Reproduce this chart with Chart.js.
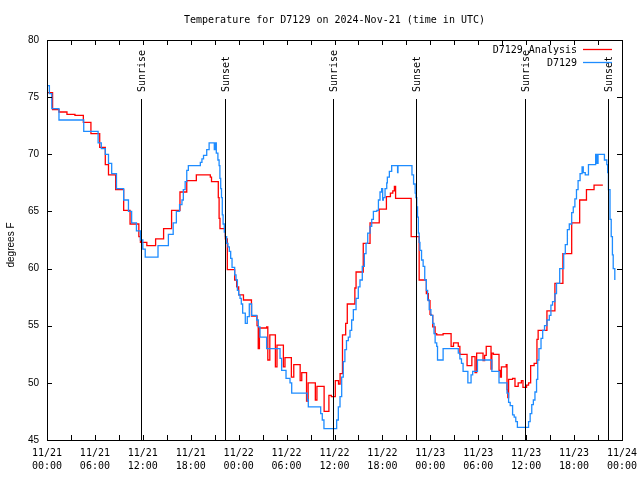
<!DOCTYPE html>
<html>
<head>
<meta charset="utf-8">
<script src="https://cdn.jsdelivr.net/npm/chart.js@4.4.1/dist/chart.umd.min.js"></script>
<style>
  html, body { margin: 0; padding: 0; background: #fff; }
  canvas { display: block; }
</style>
</head>
<body>
<canvas id="myChart" width="640" height="480"></canvas>
<script>
// hours since 2024-11-21 00:00 UTC
var anaHours = [0, 0.7, 1.5, 2.5, 3.5, 4.55, 5.5, 6.6, 7.3, 7.7, 8.6, 9.6, 10.4, 11.5, 11.7, 12.5, 13.6, 14.6, 15.6, 16.65,
	17.5, 18.7, 20.45, 20.6, 21.45, 21.55, 21.66, 22.33, 22.58, 23.5, 23.75, 24.0, 24.6, 25.6, 26.3, 26.45, 26.6, 27.5, 27.65, 27.9, 28.6,
	28.8, 29.6, 29.8, 30.6, 30.9, 31.7, 31.9, 32.5, 32.7, 33.6, 33.8, 34.7, 35.3, 35.6, 36.1, 36.5, 36.7, 37.0, 37.4, 37.6,
	38.55, 38.7, 39.6, 40.45, 41.6, 42.5, 43.0, 43.3, 43.5, 43.65, 45.6, 46.6, 47.5, 47.75, 47.96, 48.1, 48.3, 48.6, 48.8, 49.6,
	50.6, 50.9, 51.5, 51.7, 52.6, 53.2, 53.6, 53.8, 54.6, 54.8, 55.0, 55.6, 55.7, 55.9, 56.6, 56.75, 56.9, 57.5, 57.6, 57.7,
	57.8, 58.3, 58.6, 59.0, 59.4, 59.6, 60.05, 60.3, 60.56, 61.0, 61.35, 61.5, 62.6, 63.6, 64.6, 65.7, 66.7, 67.55, 68.5, 69.6];
var anaTemp = [75.4, 73.9, 73.7, 73.5, 73.4, 72.8, 71.8, 70.6, 69.1, 68.2, 66.9, 65.1, 63.9, 62.8, 62.3, 62.0, 62.6, 63.5, 65.1, 66.7,
	67.7, 68.2, 68.0, 67.6, 66.2, 64.4, 63.5, 62.6, 59.9, 59.0, 58.4, 57.7, 57.25, 55.85, 55.0, 53.0, 54.8, 54.9, 52.0, 54.2, 51.4,
	53.3, 51.4, 52.2, 50.5, 51.6, 50.2, 50.9, 48.4, 50.0, 48.5, 49.7, 47.5, 48.9, 48.8, 50.2, 49.9, 50.8, 54.2, 55.2, 56.9,
	58.3, 59.7, 62.2, 64.0, 65.2, 66.3, 66.6, 66.8, 67.2, 66.15, 62.8, 59.0, 57.8, 57.2, 56.0, 55.9, 54.9, 54.3, 54.2, 54.3,
	53.2, 53.5, 53.2, 52.5, 51.5, 52.3, 50.9, 52.6, 51.95, 52.4, 53.2, 51.2, 52.6, 52.5, 51.1, 50.5, 51.4, 51.6, 49.4, 48.7,
	50.3, 50.4, 49.7, 50.0, 50.2, 49.6, 49.8, 50.0, 51.5, 51.7, 53.8, 54.6, 56.3, 58.7, 61.3, 64.0, 66.0, 66.9, 67.3, 67.3];

var obsHours = [0, 0.3, 0.6, 1.5, 4.6, 6.4, 6.8, 7.3, 7.7, 8.1, 8.7, 9.6, 10.2, 10.6, 11.2, 11.7, 12.0, 12.3, 13.9, 15.2,
	15.8, 16.2, 16.6, 16.9, 17.07, 17.3, 17.5, 17.7, 19.2, 19.4, 19.6, 20.0, 20.3, 20.95, 21.1, 21.2, 21.4, 21.55, 21.65, 21.75,
	21.85, 21.95, 22.05, 22.2, 22.33, 22.5, 22.66, 22.83,
	23.0, 23.17, 23.5, 23.67, 23.84, 24.0, 24.17, 24.33, 24.5, 24.83, 25.08, 25.33, 25.63, 26.25, 26.46, 26.67, 27.5, 29.18, 29.38, 29.93,
	30.43, 30.64, 32.6, 32.72, 34.27, 34.47, 34.68, 36.27, 36.48, 36.69, 36.9, 37.1, 37.3, 37.5, 37.73, 37.94, 38.15, 38.36, 38.7, 38.98,
	39.19, 39.48, 39.74, 39.95, 40.16, 40.45, 40.66, 40.87, 41.3, 41.5, 41.7, 41.9, 42.03, 42.12, 42.33, 42.54, 42.62, 42.87, 43.16, 43.9,
	43.95, 45.7, 45.9, 46.1, 46.2, 46.3, 46.4, 46.5, 46.6, 46.7, 46.9, 47.1, 47.3, 47.5, 47.66, 47.86, 48.07, 48.3, 48.46, 48.6, 48.8,
	48.9, 49.6, 51.5, 51.7, 51.9, 52.1, 52.7, 53.1, 53.3, 53.9, 55.7, 56.6, 57.6, 57.8, 58.0, 58.3, 58.5, 58.7, 58.9, 60.3,
	60.5, 60.7, 60.9, 61.1, 61.3, 61.45, 61.6, 61.86, 62.07, 62.3, 62.6, 62.9, 63.1, 63.3, 63.6, 63.8, 64.2, 64.7, 64.9, 65.16,
	65.4, 65.7, 65.9, 66.1, 66.3, 66.5, 66.75, 67.0, 67.15, 67.4, 67.8, 68.7, 68.85, 69.0, 69.6, 69.8, 70.1, 70.2, 70.3, 70.5,
	70.65, 70.8, 70.9, 71.1];
var obsTemp = [76, 75.3, 74, 73, 72, 71, 70.5, 70, 69.2, 68.3, 67, 66, 65, 64, 63.3, 62.5, 61.7, 61, 62, 63,
	64, 65, 65.6, 66.0, 66.9, 67.6, 68.6, 69.0, 69.3, 69.6, 69.9, 70.4, 71.0, 70.4, 71.0, 70.1, 69.5, 69.0, 67.9, 67.0,
	66.2, 64.7, 63.9, 63.2, 62.8, 62.2, 61.9, 61.5,
	60.9, 60.1, 59.45, 59.0, 58.1, 57.7, 57.4, 56.9, 56.1, 55.2, 55.8, 56.9, 55.9, 55.5, 54.9, 54.0, 53.0, 52.15, 51.1, 50.4,
	50.0, 49.1, 48.5, 47.9, 47.3, 46.75, 46.0, 46.75, 47.9, 48.8, 50.5, 51.85, 52.9, 53.7, 54.0, 54.6, 55.5, 56.4, 57.4, 58.4,
	59.0, 60.2, 61.3, 62.2, 63.1, 63.7, 64.3, 65.0, 65.1, 66.0, 66.7, 67.0, 66.0, 66.2, 67.0, 67.5, 68.0, 68.5, 69.0, 68.4,
	69.0, 68.2, 67.4, 66.6, 66.2, 65.4, 64.5, 63.1, 62.3, 61.6, 60.75, 60.2, 59.0, 58.1, 57.25, 56.4, 55.9, 55.2, 54.3, 53.5, 53.2,
	52.0, 53.0, 52.6, 52.1, 51.7, 51.0, 50.0, 50.7, 51.0, 52.0, 51.0, 50.0, 49.1, 48.3, 48.0, 47.2, 47.0, 46.6, 46.1, 46.6,
	47.3, 48.1, 48.5, 49.2, 50.3, 52.0, 53.0, 53.9, 54.6, 55.0, 55.5, 55.9, 56.8, 57.1, 57.8, 58.7, 60.0, 61.3, 62.1, 63.4,
	63.9, 64.9, 65.4, 66.1, 66.9, 67.7, 68.3, 68.9, 68.4, 68.2, 69.1, 70.0, 69.2, 70.0, 70.0, 69.5, 69.1, 68.4, 66.9, 64.3,
	62.8, 61.2, 60.0, 59.0];

var sunHours = [11.77, 22.33, 35.85, 46.25, 59.9, 70.29];
var sunNames = ['Sunrise', 'Sunset', 'Sunrise', 'Sunset', 'Sunrise', 'Sunset'];

var dayLabels = ['11/21', '11/22', '11/23', '11/24'];
var hourLabels = ['00:00', '06:00', '12:00', '18:00'];

var titleText = 'Temperature for D7129 on 2024-Nov-21 (time in UTC)';
var yTitle = 'degrees F';

var mono = '"DejaVu Sans Mono", "Liberation Mono", monospace';
var sans = '"Liberation Sans", Arial, sans-serif';

function toPoints(xs, ys) {
	return xs.map(function (x, i) { return { x: x, y: ys[i] }; });
}

// gnuplot style frame, inward ticks, sun markers, key and titles
var gnuplotLook = {
	id: 'gnuplotLook',
	afterDatasetsDraw: function (chart) {
		var ctx = chart.ctx;
		var a = chart.chartArea;
		var xs = chart.scales.x;
		var ys = chart.scales.y;
		ctx.save();
		ctx.strokeStyle = '#000';
		ctx.lineWidth = 1;

		// sunrise / sunset lines
		ctx.font = '10px ' + mono;
		ctx.fillStyle = '#000';
		sunHours.forEach(function (h, i) {
			var px = Math.round(xs.getPixelForValue(h)) + 0.5;
			ctx.beginPath();
			ctx.moveTo(px, 99);
			ctx.lineTo(px, a.bottom);
			ctx.stroke();
			ctx.save();
			ctx.translate(px + 1, 92);
			ctx.rotate(-Math.PI / 2);
			ctx.textAlign = 'left';
			ctx.textBaseline = 'middle';
			ctx.fillText(sunNames[i], 0, 0);
			ctx.restore();
		});

		// frame
		ctx.strokeRect(Math.round(a.left) + 0.5, Math.round(a.top) + 0.5,
			Math.round(a.right - a.left), Math.round(a.bottom - a.top));

		// inward ticks
		ctx.beginPath();
		for (var h = 3; h < 72; h += 3) {
			var px = Math.round(xs.getPixelForValue(h)) + 0.5;
			ctx.moveTo(px, a.bottom); ctx.lineTo(px, a.bottom - 5);
			ctx.moveTo(px, a.top); ctx.lineTo(px, a.top + 5);
		}
		for (var v = 50; v < 80; v += 5) {
			var py = Math.round(ys.getPixelForValue(v)) + 0.5;
			ctx.moveTo(a.left, py); ctx.lineTo(a.left + 5, py);
			ctx.moveTo(a.right, py); ctx.lineTo(a.right - 5, py);
		}
		ctx.stroke();

		// key
		ctx.font = '10px ' + mono;
		ctx.textAlign = 'right';
		ctx.textBaseline = 'middle';
		chart.data.datasets.forEach(function (ds, i) {
			var ky = 50 + i * 13;
			ctx.fillStyle = '#000';
			ctx.fillText(ds.label, 577, ky);
			ctx.strokeStyle = ds.borderColor;
			ctx.lineWidth = 1.3;
			ctx.beginPath();
			ctx.moveTo(583, ky - 0.5);
			ctx.lineTo(612, ky - 0.5);
			ctx.stroke();
		});

		// title
		ctx.fillStyle = '#000';
		ctx.textAlign = 'center';
		ctx.textBaseline = 'middle';
		ctx.font = '10px ' + mono;
		ctx.fillText(titleText, (a.left + a.right) / 2, 20);

		// y axis title
		ctx.save();
		ctx.translate(11, 245);
		ctx.rotate(-Math.PI / 2);
		ctx.font = '10px ' + sans;
		ctx.fillText(yTitle, 0, 0);
		ctx.restore();

		ctx.restore();
	}
};

var myChart = document.getElementById('myChart').getContext('2d');

var chart = new Chart(myChart, {
	type: 'line',
	data: {
		datasets: [{
			label: 'D7129 Analysis',
			data: toPoints(anaHours, anaTemp),
			borderColor: '#ff0000',
			borderWidth: 1.3,
			stepped: true,
			pointRadius: 0,
			fill: false,
			order: 2
		}, {
			label: 'D7129',
			data: toPoints(obsHours, obsTemp),
			borderColor: '#1e8cff',
			borderWidth: 1.3,
			stepped: true,
			pointRadius: 0,
			fill: false,
			order: 1
		}]
	},
	options: {
		responsive: false,
		animation: false,
		layout: {
			padding: { top: 40, right: 18, left: 0, bottom: 0 }
		},
		plugins: {
			legend: { display: false },
			tooltip: { enabled: false },
			title: { display: false }
		},
		scales: {
			x: {
				type: 'linear',
				min: 0,
				max: 72,
				grid: { display: false, drawTicks: false },
				border: { display: false },
				ticks: {
					stepSize: 6,
					autoSkip: false,
					maxRotation: 0,
					padding: 7,
					color: '#000',
					font: { family: mono, size: 10, lineHeight: 1.3 },
					callback: function (value) {
						if (value % 6 !== 0) return '';
						return [dayLabels[Math.floor(value / 24)], hourLabels[(value % 24) / 6]];
					}
				},
				afterFit: function (scale) {
					scale.height = 40;
					scale.paddingLeft = 0;
					scale.paddingRight = 0;
				}
			},
			y: {
				min: 45,
				max: 80,
				grid: { display: false, drawTicks: false },
				border: { display: false },
				ticks: {
					stepSize: 5,
					padding: 8,
					color: '#000',
					font: { family: sans, size: 10 }
				},
				afterFit: function (scale) { scale.width = 47; }
			}
		}
	},
	plugins: [gnuplotLook]
});
</script>
</body>
</html>
